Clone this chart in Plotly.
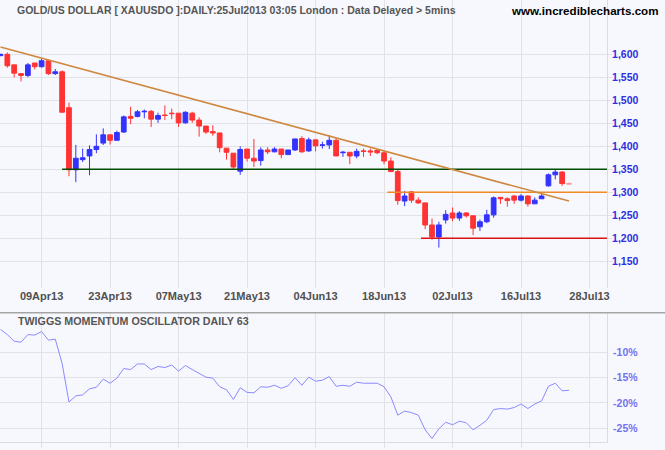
import plotly.graph_objects as go

# ---------------- data ----------------
day_index = list(range(84))
opens = [1597, 1600, 1577, 1558, 1554, 1581, 1573, 1586, 1558, 1562,
         1484, 1349, 1371, 1379, 1393, 1407, 1425, 1413, 1431, 1465,
         1465, 1475, 1476, 1459, 1468, 1472, 1472, 1451, 1472, 1457,
         1444, 1432, 1429, 1396, 1385, 1346, 1394, 1374, 1369, 1392,
         1388, 1394, 1382, 1392, 1417, 1390, 1414, 1402, 1403, 1413,
         1386, 1387, 1379, 1390, 1390, 1391, 1386, 1368, 1345, 1281,
         1301, 1283, 1277, 1229, 1203, 1240, 1255, 1244, 1255, 1249,
         1225, 1236, 1251, 1289, 1286, 1292, 1283, 1292, 1275, 1286,
         1314, 1338, 1344, 1319]
highs = [1601, 1604, 1577, 1558, 1581, 1581, 1591, 1589, 1568, 1565,
         1495, 1403, 1395, 1402, 1426, 1439, 1425, 1434, 1467, 1486,
         1479, 1480, 1479, 1473, 1489, 1482, 1472, 1476, 1475, 1463,
         1444, 1446, 1429, 1396, 1385, 1400, 1394, 1416, 1398, 1398,
         1398, 1394, 1392, 1416, 1422, 1419, 1414, 1410, 1424, 1418,
         1390, 1387, 1395, 1395, 1395, 1393, 1389, 1376, 1349, 1303,
         1303, 1289, 1277, 1243, 1236, 1261, 1267, 1259, 1257, 1249,
         1241, 1262, 1291, 1289, 1289, 1294, 1296, 1294, 1289, 1299,
         1341, 1350, 1346, 1322]
lows = [1596, 1571, 1550, 1541, 1550, 1567, 1571, 1555, 1555, 1474,
        1335, 1322, 1366, 1337, 1385, 1403, 1404, 1413, 1429, 1448,
        1463, 1461, 1442, 1451, 1457, 1459, 1442, 1449, 1451, 1421,
        1427, 1423, 1387, 1371, 1351, 1338, 1367, 1355, 1358, 1383,
        1387, 1374, 1382, 1390, 1386, 1388, 1389, 1395, 1394, 1379,
        1377, 1361, 1374, 1377, 1379, 1383, 1361, 1345, 1273, 1270,
        1277, 1275, 1220, 1197, 1180, 1232, 1237, 1238, 1245, 1207,
        1216, 1233, 1245, 1275, 1269, 1275, 1280, 1269, 1275, 1286,
        1312, 1328, 1314, 1318]
closes = [1600, 1575, 1559, 1554, 1577, 1573, 1586, 1558, 1562, 1474,
          1349, 1374, 1375, 1393, 1400, 1425, 1413, 1430, 1464, 1461,
          1475, 1476, 1459, 1467, 1467, 1471, 1451, 1474, 1457, 1444,
          1431, 1429, 1397, 1387, 1355, 1393, 1374, 1368, 1392, 1388,
          1394, 1382, 1392, 1416, 1388, 1414, 1401, 1403, 1413, 1379,
          1387, 1379, 1389, 1389, 1388, 1386, 1368, 1345, 1282, 1292,
          1283, 1277, 1229, 1203, 1229, 1252, 1244, 1255, 1249, 1222,
          1236, 1251, 1288, 1286, 1282, 1283, 1292, 1275, 1283, 1292,
          1338, 1344, 1319, 1318]

# Twiggs momentum oscillator (%)
momentum = [-5.5, -6.5, -7.8, -8.0, -6.5, -6.6, -5.9, -7.6, -7.4, -12.2,
            -19.8, -18.6, -18.4, -17.2, -16.9, -15.3, -16.1, -15.1, -13.2, -13.4,
            -12.3, -12.3, -13.4, -12.8, -13.0, -12.5, -13.7, -12.6, -13.4, -14.1,
            -14.9, -15.1, -16.8, -17.4, -19.3, -17.0, -17.9, -18.0, -16.8, -16.9,
            -16.5, -17.1, -16.6, -15.0, -16.5, -14.9, -15.7, -15.5, -14.8, -16.7,
            -16.5, -16.7, -15.9, -16.1, -16.1, -16.1, -16.8, -18.8, -22.4, -21.6,
            -21.9, -22.4, -25.3, -27.0, -25.1, -23.8, -24.3, -23.6, -23.9, -25.3,
            -24.4, -23.4, -21.3, -21.1, -21.2, -20.9, -20.2, -21.1, -20.2, -19.6,
            -16.7, -16.1, -17.6, -17.5]

date_tick_pos = [6, 16, 26, 36, 46, 56, 66, 76, 86]
date_tick_text = ["09Apr13", "23Apr13", "07May13", "21May13", "04Jun13",
                  "18Jun13", "02Jul13", "16Jul13", "28Jul13"]
price_ticks = [1150, 1200, 1250, 1300, 1350, 1400, 1450, 1500, 1550, 1600]
osc_ticks = [-10, -15, -20, -25]
osc_tick_text = ["-10%", "-15%", "-20%", "-25%"]

trend_x = [0, 83]
trend_y = [1616, 1281]
level_values = [1350, 1300, 1200]
level_starts = [9, 56.5, 61.4]
level_colors = ["#004d00", "#f08a24", "#dd1111"]

X_MIN, X_MAX = -0.07, 88.55

# ---------------- figure ----------------
BG = "#f7f8fd"
GRID = "#e2e2e6"
FONT = "Liberation Sans, Arial, sans-serif"

fig = go.Figure()

n_done = len(day_index) - 1
fig.add_trace(go.Candlestick(
    x=day_index[:n_done], open=opens[:n_done], high=highs[:n_done],
    low=lows[:n_done], close=closes[:n_done],
    increasing=dict(line=dict(color="#3333ff", width=1), fillcolor="#3333ff"),
    decreasing=dict(line=dict(color="#ff3333", width=1), fillcolor="#ff3333"),
    whiskerwidth=0, xaxis="x", yaxis="y", showlegend=False, hoverinfo="skip"))
fig.add_trace(go.Candlestick(
    x=day_index[n_done:], open=opens[n_done:], high=highs[n_done:],
    low=lows[n_done:], close=closes[n_done:],
    increasing=dict(line=dict(color="#ff9a9a", width=1), fillcolor="#ff9a9a"),
    decreasing=dict(line=dict(color="#ff9a9a", width=1), fillcolor="#ff9a9a"),
    whiskerwidth=0, xaxis="x", yaxis="y", showlegend=False, hoverinfo="skip"))

for lv, st, col in zip(level_values, level_starts, level_colors):
    fig.add_trace(go.Scatter(x=[st, X_MAX], y=[lv, lv], mode="lines",
                             line=dict(color=col, width=1.6),
                             xaxis="x", yaxis="y", showlegend=False, hoverinfo="skip"))

fig.add_trace(go.Scatter(x=trend_x, y=trend_y, mode="lines",
                         line=dict(color="#cf8840", width=1.6),
                         xaxis="x", yaxis="y", showlegend=False, hoverinfo="skip"))

fig.add_trace(go.Scatter(x=day_index, y=momentum, mode="lines",
                         line=dict(color="#8a8aff", width=1),
                         xaxis="x2", yaxis="y2", showlegend=False, hoverinfo="skip"))

PLOT_H = 442.0
top_dom = [(PLOT_H - 288) / PLOT_H, 1.0]
bot_dom = [0.0, (PLOT_H - 313) / PLOT_H]

fig.update_layout(
    width=665, height=450,
    margin=dict(l=0, r=58, t=0, b=8),
    paper_bgcolor=BG, plot_bgcolor=BG,
    boxgap=0.31, boxgroupgap=0.0,
    font=dict(family=FONT),
    xaxis=dict(domain=[0, 1], range=[X_MIN, X_MAX], anchor="y",
               tickmode="array", tickvals=date_tick_pos, ticktext=date_tick_text,
               tickfont=dict(family=FONT, size=11, color="#505050", weight="bold"),
               showgrid=True, gridcolor=GRID, gridwidth=1, zeroline=False,
               ticks="", showline=False, rangeslider=dict(visible=False)),
    yaxis=dict(domain=top_dom, range=[1092, 1718], side="right", anchor="x",
               tickmode="array", tickvals=price_ticks, tickformat=",",
               tickfont=dict(family=FONT, size=10.5, color="#2e2ee0", weight="bold"),
               showgrid=True, gridcolor=GRID, gridwidth=1, zeroline=False,
               ticks="outside", ticklen=5, tickcolor=GRID, ticklabelstandoff=-3,
               showline=True, linecolor="#dcdce0", linewidth=1),
    xaxis2=dict(domain=[0, 1], range=[X_MIN, X_MAX], anchor="y2",
                tickmode="array", tickvals=date_tick_pos, showticklabels=False,
                showgrid=True, gridcolor=GRID, gridwidth=1, zeroline=False,
                ticks="outside", ticklen=5, tickcolor=GRID,
                showline=True, linecolor="#dcdce0", linewidth=1),
    yaxis2=dict(domain=bot_dom, range=[-27.7, -2.24], side="right", anchor="x2",
                tickmode="array", tickvals=osc_ticks, ticktext=osc_tick_text,
                tickfont=dict(family=FONT, size=10.5, color="#7373ee", weight="bold"),
                showgrid=True, gridcolor=GRID, gridwidth=1, zeroline=False,
                ticks="outside", ticklen=5, tickcolor=BG, ticklabelstandoff=-2,
                showline=True, linecolor="#dcdce0", linewidth=1),
)

fig.add_shape(type="line", xref="paper", yref="paper",
              x0=0, x1=665 / 607.0, y0=(PLOT_H - 312.7) / PLOT_H, y1=(PLOT_H - 312.7) / PLOT_H,
              line=dict(color="#a5a5a5", width=1.5))

fig.add_annotation(text="GOLD/US DOLLAR [ XAUUSDO ]:DAILY:25Jul2013 03:05 London : Data Delayed > 5mins",
                   xref="paper", yref="paper", x=15 / 607.0, y=(PLOT_H - 10) / PLOT_H,
                   xanchor="left", yanchor="middle", showarrow=False,
                   font=dict(family=FONT, size=10.5, color="#555555", weight="bold"))
fig.add_annotation(text="www.incrediblecharts.com",
                   xref="paper", yref="paper", x=509 / 607.0, y=(PLOT_H - 10) / PLOT_H,
                   xanchor="left", yanchor="middle", showarrow=False,
                   font=dict(family=FONT, size=11.6, color="#000000", weight="bold"))
fig.add_annotation(text="TWIGGS MOMENTUM OSCILLATOR DAILY 63",
                   xref="paper", yref="paper", x=16 / 607.0, y=(PLOT_H - 321) / PLOT_H,
                   xanchor="left", yanchor="middle", showarrow=False,
                   font=dict(family=FONT, size=10.7, color="#555555", weight="bold"))

fig.write_html("out.html", config={"displayModeBar": False},
               post_script="document.body.style.margin='0';document.body.style.overflow='hidden';")
